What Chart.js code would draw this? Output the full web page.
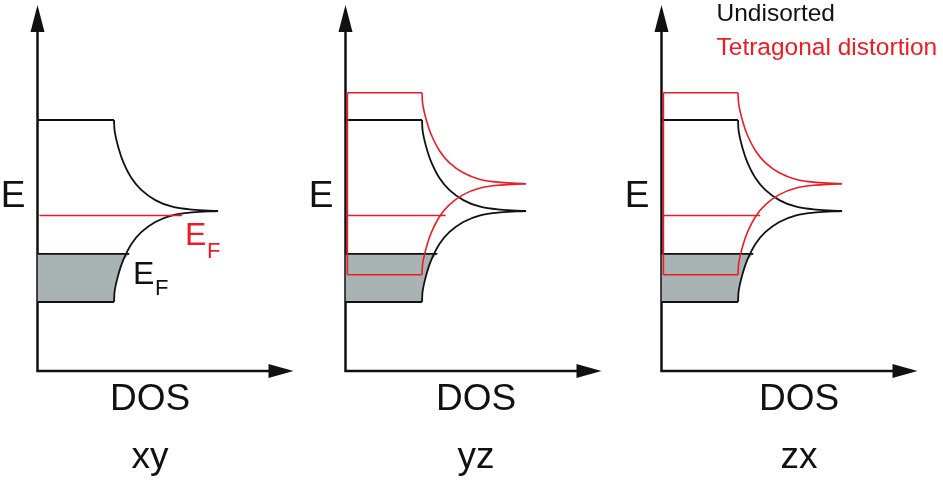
<!DOCTYPE html>
<html>
<head>
<meta charset="utf-8">
<script src="https://cdn.jsdelivr.net/npm/chart.js@4.4.1/dist/chart.umd.min.js"></script>
<style>
  html, body { margin: 0; padding: 0; background: #fff; }
  #wrap { position: relative; width: 943px; height: 480px; }
  #wrap canvas { position: absolute; left: 0; top: 0; }
</style>
</head>
<body>
<div id="wrap">
  <canvas id="p0" width="943" height="480"></canvas>
  <canvas id="p1" width="943" height="480"></canvas>
  <canvas id="p2" width="943" height="480"></canvas>
</div>
<script>
// orbital of each panel
const orbitals = ['xy', 'yz', 'zx'];

const lobeDos = [1.0, 1.01, 1.06, 1.12, 1.23, 1.36, 1.54, 1.75, 2.02, 2.36];
const lobeE   = [1.0, 0.87, 0.69, 0.54, 0.36, 0.23, 0.12, 0.05, 0.015, 0];

// band centres per panel (null = no distorted band drawn)
const centreUndistorted = [0, 0, 0];
const centreDistorted = [null, 0.30, 0.30];

// Fermi levels and the DOS where each E_F line stops
const fermiUndistorted = -0.47;
const fermiDistorted = -0.05;
const fermiEndUndistorted = [1.20, 1.20, 1.20];
const fermiEndDistorted = [1.89, 1.31, 1.29];

const legendLabels = ['Undisorted', 'Tetragonal distortion'];

const BLACK = '#111111';
const RED = '#ed1c24';
const GREY = '#a9b3b3';
const FONT = '"Liberation Sans", Arial, Helvetica, sans-serif';

// where each panel sits on the page (pixels)
const panelLayout = [
  { axisX: 37.5, labelX: 150, ef: true },
  { axisX: 345.5, labelX: 476 },
  { axisX: 661.5, labelX: 799, legend: true }
];

function lineSet(points, color, width, order) {
  return {
    data: points, borderColor: color, borderWidth: width, order: order,
    pointRadius: 0, fill: false, clip: false, tension: 0
  };
}

function curveSet(points, color, width, order) {
  let ds = lineSet(points, color, width, order);
  ds.tension = 0.4;
  return ds;
}

// plateaus, two DOS lobes and (optionally) the left edge of a band
function bandSets(c, color, width, order, leftEdge) {
  let top = c + lobeE[0], bottom = c - lobeE[0];
  let x0 = leftEdge == null ? 0 : leftEdge;
  let sets = [
    lineSet([{x: x0, y: top}, {x: lobeDos[0], y: top}], color, width, order),
    curveSet(lobeDos.map((d, i) => ({x: d, y: c + lobeE[i]})), color, width, order),
    curveSet(lobeDos.map((d, i) => ({x: d, y: c - lobeE[i]})), color, width, order),
    lineSet([{x: x0, y: bottom}, {x: lobeDos[0], y: bottom}], color, width, order)
  ];
  if (leftEdge != null) {
    sets.push(lineSet([{x: x0, y: bottom}, {x: x0, y: top}], color, width, order));
  }
  return sets;
}

// occupied part of the undistorted band
function shadeSet(c, ef, efEnd) {
  let pts = [{x: 0, y: ef}, {x: efEnd, y: ef}];
  for (let i = lobeDos.length - 1; i >= 0; i--) {
    if (c - lobeE[i] < ef) pts.push({x: lobeDos[i], y: c - lobeE[i]});
  }
  pts.push({x: 0, y: c - lobeE[0]});
  return {
    data: pts, borderWidth: 0, backgroundColor: GREY, fill: 'shape',
    order: 5, pointRadius: 0, clip: false, tension: 0
  };
}

const axesPlugin = {
  id: 'arrowAxes',
  beforeDatasetsDraw(chart) {
    const {ctx, chartArea: a} = chart;
    ctx.save();
    ctx.strokeStyle = BLACK;
    ctx.fillStyle = BLACK;
    ctx.lineWidth = 2.5;
    ctx.lineJoin = 'miter';
    ctx.beginPath();
    ctx.moveTo(a.left, a.top + 20);
    ctx.lineTo(a.left, a.bottom);
    ctx.lineTo(a.right - 20, a.bottom);
    ctx.stroke();
    ctx.beginPath();
    ctx.moveTo(a.left, a.top);
    ctx.lineTo(a.left - 7, a.top + 27);
    ctx.lineTo(a.left + 7, a.top + 27);
    ctx.closePath();
    ctx.fill();
    ctx.beginPath();
    ctx.moveTo(a.right, a.bottom);
    ctx.lineTo(a.right - 25, a.bottom - 7);
    ctx.lineTo(a.right - 25, a.bottom + 7);
    ctx.closePath();
    ctx.fill();
    ctx.restore();
  },
  afterDraw(chart) {
    const {ctx, chartArea: a} = chart;
    const p = chart.options.plugins.arrowAxes;
    const lay = panelLayout[p.panel];
    ctx.save();
    ctx.fillStyle = BLACK;
    ctx.textBaseline = 'alphabetic';
    ctx.font = '37px ' + FONT;
    ctx.textAlign = 'right';
    ctx.fillText('E', a.left - 12, chart.scales.y.getPixelForValue(0) - 4);
    ctx.textAlign = 'center';
    ctx.fillText('DOS', lay.labelX, a.bottom + 39);
    ctx.fillText(orbitals[p.panel], lay.labelX, a.bottom + 97);
    ctx.textAlign = 'left';
    if (lay.ef) {
      ctx.fillStyle = RED;
      ctx.font = '32px ' + FONT;
      ctx.fillText('E', a.left + 147.5, 245);
      ctx.font = '22px ' + FONT;
      ctx.fillText('F', a.left + 169.5, 258);
      ctx.fillStyle = BLACK;
      ctx.font = '32px ' + FONT;
      ctx.fillText('E', a.left + 95.5, 284);
      ctx.font = '22px ' + FONT;
      ctx.fillText('F', a.left + 117.5, 295);
    }
    if (lay.legend) {
      ctx.font = '24.5px ' + FONT;
      ctx.fillStyle = BLACK;
      ctx.fillText(legendLabels[0], a.left + 55, 21);
      ctx.fillStyle = RED;
      ctx.fillText(legendLabels[1], a.left + 55, 55);
    }
    ctx.restore();
  }
};

orbitals.forEach((name, k) => {
  const lay = panelLayout[k];
  let datasets = [shadeSet(centreUndistorted[k], fermiUndistorted, fermiEndUndistorted[k])];
  datasets = datasets.concat(bandSets(centreUndistorted[k], BLACK, 1.8, 3));
  datasets.push(lineSet([{x: 0, y: fermiUndistorted}, {x: fermiEndUndistorted[k], y: fermiUndistorted}], BLACK, 1.8, 3));
  if (centreDistorted[k] != null) {
    datasets = datasets.concat(bandSets(centreDistorted[k], RED, 1.6, 1, 0.025));
  }
  datasets.push(lineSet([{x: 0.025, y: fermiDistorted}, {x: fermiEndDistorted[k], y: fermiDistorted}], RED, 1.6, 1));

  new Chart(document.getElementById('p' + k), {
    type: 'line',
    data: { datasets: datasets },
    options: {
      responsive: false,
      animation: false,
      events: [],
      layout: { padding: { left: lay.axisX, right: 943 - lay.axisX - 256, top: 5, bottom: 109 } },
      scales: {
        x: { type: 'linear', min: 0, max: 3.346, display: false },
        y: { type: 'linear', min: -1.758, max: 2.264, display: false }
      },
      plugins: {
        legend: { display: false },
        tooltip: { enabled: false },
        arrowAxes: { panel: k }
      }
    },
    plugins: [axesPlugin]
  });
});
</script>
</body>
</html>
